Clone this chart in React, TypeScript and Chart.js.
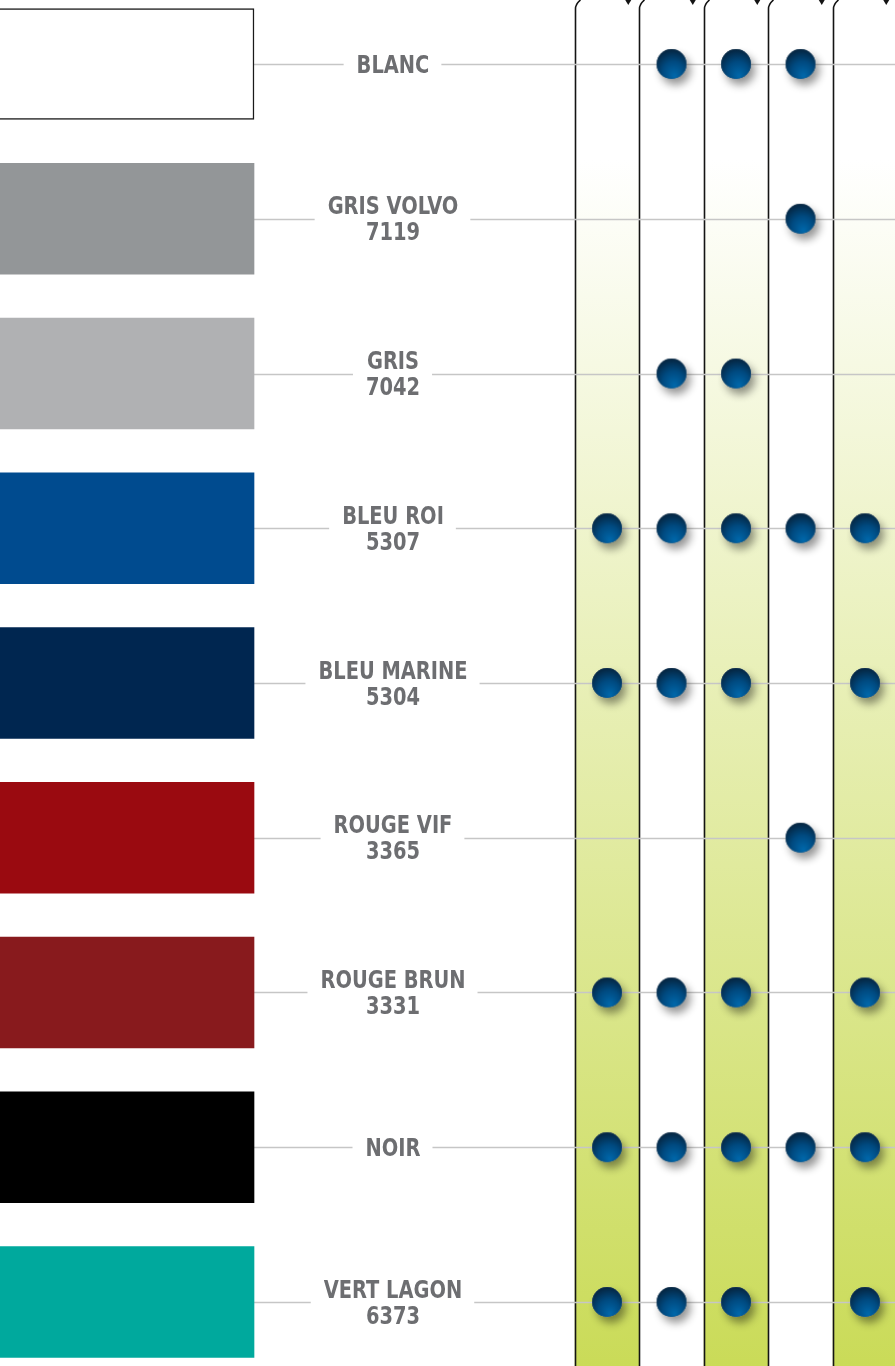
import React, { useEffect, useRef } from 'react';
import { Chart, registerables } from 'chart.js';

Chart.register(...registerables);

// ---- data ----
const COLOR_NAMES = ['BLANC', 'GRIS VOLVO', 'GRIS', 'BLEU ROI', 'BLEU MARINE', 'ROUGE VIF', 'ROUGE BRUN', 'NOIR', 'VERT LAGON'];
const COLOR_CODES = ['', '7119', '7042', '5307', '5304', '3365', '3331', '', '6373'];
const SWATCH_COLORS = ['#ffffff', '#939698', '#b0b1b3', '#004b8f', '#002650', '#9a0a10', '#881a1d', '#000000', '#00a99d'];
const COLUMNS = [1, 2, 3, 4, 5];
const COLUMN_1 = [0, 0, 0, 1, 1, 0, 1, 1, 1];
const COLUMN_2 = [1, 0, 1, 1, 1, 0, 1, 1, 1];
const COLUMN_3 = [1, 0, 1, 1, 1, 0, 1, 1, 1];
const COLUMN_4 = [1, 1, 0, 1, 0, 1, 0, 1, 0];
const COLUMN_5 = [0, 0, 0, 1, 1, 0, 1, 1, 1];
const AVAILABILITY = [COLUMN_1, COLUMN_2, COLUMN_3, COLUMN_4, COLUMN_5];
const SHADED_COLUMNS = [1, 3, 5];

// ---- layout constants (scale domain) ----
const X_MIN = -8.411;
const X_MAX = 5.465;
const SWATCH_END = -4.473;
const LABEL_X = -2.318;
const Y_MIN = -0.4136;
const Y_MAX = 8.4136;

const LABEL_FONT = 'bold 24px "Liberation Sans Narrow", "DejaVu Sans Condensed", "Open Sans", sans-serif';
const LABEL_SQUEEZE = 0.9;
const LABEL_COLOR = '#6d6e71';
const RULE_COLOR = '#c6c6c6';

function makeDot(): HTMLCanvasElement {
  const c = document.createElement('canvas');
  c.width = 64;
  c.height = 64;
  const g = c.getContext('2d') as CanvasRenderingContext2D;
  const cx = 32, cy = 32, r = 15;
  g.save();
  g.shadowColor = 'rgba(0,0,0,0.42)';
  g.shadowBlur = 8;
  g.shadowOffsetX = 4;
  g.shadowOffsetY = 6;
  g.beginPath();
  g.arc(cx, cy, r, 0, Math.PI * 2);
  g.fillStyle = '#0a2d4d';
  g.fill();
  g.restore();
  const grad = g.createRadialGradient(cx + 3, cy + 12, 1, cx + 1, cy + 4, 23);
  grad.addColorStop(0, '#0066a8');
  grad.addColorStop(0.45, '#004a80');
  grad.addColorStop(1, '#07182a');
  g.beginPath();
  g.arc(cx, cy, r, 0, Math.PI * 2);
  g.fillStyle = grad;
  g.fill();
  g.strokeStyle = 'rgba(255,255,255,0.18)';
  g.lineWidth = 0.6;
  g.stroke();
  return c;
}

const boardPlugin = {
  id: 'board',
  beforeDraw(chart: any) {
    const { ctx, width, height } = chart;
    const xs = chart.scales.x;
    ctx.save();
    ctx.fillStyle = '#ffffff';
    ctx.fillRect(0, 0, width, height);
    COLUMNS.forEach((k) => {
      const left = xs.getPixelForValue(k - 0.5);
      const right = xs.getPixelForValue(k + 0.5);
      if (SHADED_COLUMNS.includes(k)) {
        const grad = ctx.createLinearGradient(0, 160, 0, height);
        grad.addColorStop(0, '#ffffff');
        grad.addColorStop(1, '#cadb58');
        ctx.fillStyle = grad;
        ctx.fillRect(left, 0, right - left, height);
      }
    });
    ctx.strokeStyle = '#141414';
    ctx.lineWidth = 1.6;
    ctx.fillStyle = '#141414';
    COLUMNS.forEach((k) => {
      const left = Math.round(xs.getPixelForValue(k - 0.5)) + 0.5;
      const right = xs.getPixelForValue(k + 0.5);
      ctx.beginPath();
      ctx.moveTo(left, height);
      ctx.lineTo(left, 9);
      ctx.quadraticCurveTo(left, 4, left + 5, 0);
      ctx.stroke();
      const mx = right - 11;
      ctx.beginPath();
      ctx.moveTo(mx - 3, 0);
      ctx.lineTo(mx + 3, 0);
      ctx.lineTo(mx, 5);
      ctx.closePath();
      ctx.fill();
    });
    ctx.restore();
  },
  beforeDatasetsDraw(chart: any) {
    const { ctx, width } = chart;
    const xs = chart.scales.x;
    const ys = chart.scales.y;
    ctx.save();
    ctx.font = LABEL_FONT;
    ctx.strokeStyle = RULE_COLOR;
    ctx.lineWidth = 1.5;
    const start = xs.getPixelForValue(SWATCH_END);
    const cx = xs.getPixelForValue(LABEL_X);
    COLOR_NAMES.forEach((name, i) => {
      const y = Math.round(ys.getPixelForValue(i)) + 0.5;
      const w = LABEL_SQUEEZE * Math.max(ctx.measureText(name).width, ctx.measureText(COLOR_CODES[i]).width);
      ctx.beginPath();
      ctx.moveTo(start, y);
      ctx.lineTo(cx - w / 2 - 13, y);
      ctx.moveTo(cx + w / 2 + 12, y);
      ctx.lineTo(width, y);
      ctx.stroke();
    });
    ctx.restore();
  },
  afterDatasetsDraw(chart: any) {
    const { ctx } = chart;
    const xs = chart.scales.x;
    const ys = chart.scales.y;
    const cx = xs.getPixelForValue(LABEL_X);
    const put = (text: string, y: number) => {
      ctx.save();
      ctx.translate(cx, y);
      ctx.scale(LABEL_SQUEEZE, 1);
      ctx.font = LABEL_FONT;
      ctx.fillStyle = LABEL_COLOR;
      ctx.textAlign = 'center';
      ctx.textBaseline = 'middle';
      ctx.fillText(text, 0, 0);
      ctx.restore();
    };
    COLOR_NAMES.forEach((name, i) => {
      const y = ys.getPixelForValue(i);
      if (COLOR_CODES[i]) {
        put(name, y - 10.5);
        put(COLOR_CODES[i], y + 15.5);
      } else {
        put(name, y + 2.5);
      }
    });
  },
};

export default function App() {
  const ref = useRef<HTMLCanvasElement | null>(null);
  useEffect(() => {
    if (!ref.current) return;
    const dot = makeDot();
    const points: { x: number; y: number }[] = [];
    AVAILABILITY.forEach((col, c) => {
      col.forEach((v, r) => {
        if (v) points.push({ x: COLUMNS[c], y: r });
      });
    });
    const chart = new Chart(ref.current, {
      type: 'bar',
      data: {
        datasets: [
          {
            type: 'bar',
            indexAxis: 'y',
            data: COLOR_NAMES.map((_, i) => ({ x: [X_MIN - 1, SWATCH_END], y: i })),
            backgroundColor: SWATCH_COLORS,
            borderColor: '#1a1a1a',
            borderWidth: SWATCH_COLORS.map((c) => (c === '#ffffff' ? 1.5 : 0)),
            borderSkipped: false,
            barThickness: 111,
            order: 2,
          } as any,
          {
            type: 'scatter',
            data: points,
            pointStyle: dot,
            pointRadius: 15,
            order: 1,
          } as any,
        ],
      },
      options: {
        responsive: false,
        animation: false,
        events: [],
        layout: { padding: 0, autoPadding: false },
        plugins: { legend: { display: false }, tooltip: { enabled: false } },
        scales: {
          x: { type: 'linear', min: X_MIN, max: X_MAX, display: false, offset: false, grid: { offset: false } },
          y: { type: 'linear', min: Y_MIN, max: Y_MAX, reverse: true, display: false, offset: false, grid: { offset: false } },
        },
      } as any,
      plugins: [boardPlugin],
    });
    return () => chart.destroy();
  }, []);
  return (
    <div style={{ position: 'absolute', left: 0, top: 0, width: 895, height: 1366, background: '#fff' }}>
      <canvas ref={ref} width={895} height={1366} style={{ display: 'block' }} />
    </div>
  );
}
